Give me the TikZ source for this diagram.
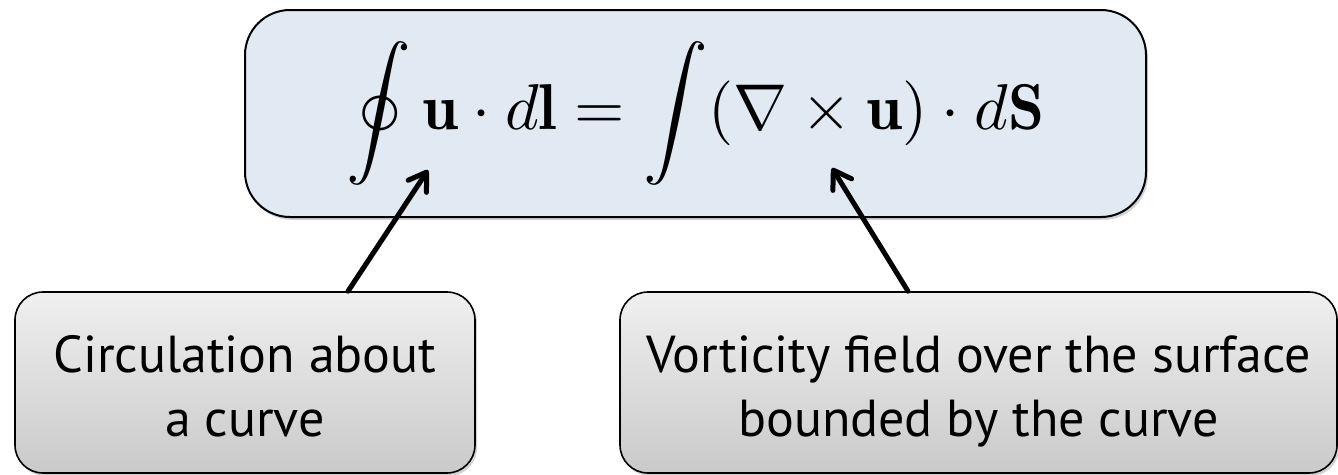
\documentclass[tikz,border=0pt]{standalone}
\usepackage{fontspec}
\usepackage{graphicx}
\setsansfont{PT Sans}
\usetikzlibrary{shadows,arrows.meta}
\definecolor{eqfill}{HTML}{E1E9F3}
\tikzset{
  eqbox/.style={draw=black, line width=2pt, fill=eqfill, rounded corners=45pt, inner sep=0pt,
    drop shadow={shadow xshift=2pt, shadow yshift=-3pt, opacity=0.35}},
  lblbox/.style={draw=black, line width=1.6pt, rounded corners=28pt, inner sep=0pt,
    top color=gray!12, bottom color=gray!42, align=center,
    font=\sffamily\fontsize{52}{64}\selectfont, text height=107pt, text depth=0pt,
    drop shadow={shadow xshift=2pt, shadow yshift=-3pt, opacity=0.35}},
  arr/.style={line width=5pt, line cap=round, line join=round,
    -{Straight Barb[length=17pt,width=22pt,round]},
    preaction={draw=black, opacity=0.2, transform canvas={xshift=1.5pt,yshift=-2.5pt}}}
}
\begin{document}
\begin{tikzpicture}[x=1pt,y=-1pt]
\useasboundingbox (0,0) rectangle (1338,474);
\node[eqbox, minimum width=901pt, minimum height=207pt] (eq) at (695.5,113.5)
  {\resizebox{697pt}{!}{$\displaystyle \oint \mathbf{u}\cdot d\mathbf{l} = \int (\nabla\times\mathbf{u})\cdot d\mathbf{S}$}};
\node[lblbox, minimum width=460pt, minimum height=181pt] (circ) at (245,382.5)
  {Circulation about\\a curve};
\node[lblbox, minimum width=717pt, minimum height=181pt] (vort) at (978.5,382.5)
  {Vorticity field over the surface\\bounded by the curve};
\coordinate (h1) at (428,170);
\coordinate (h2) at (832,168);
\draw[arr] ([xshift=103pt]circ.north) -- (h1);
\draw[arr] ([xshift=-70.5pt]vort.north) -- (h2);
\end{tikzpicture}
\end{document}
